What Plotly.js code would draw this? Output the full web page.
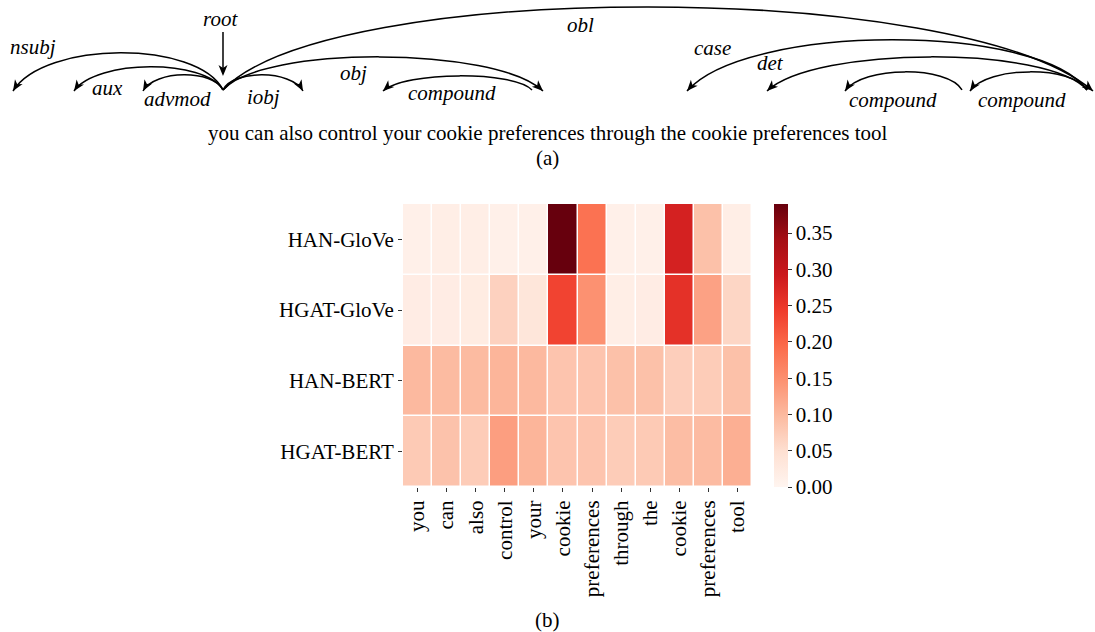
<!DOCTYPE html>
<html><head><meta charset="utf-8">
<script src="https://cdn.plot.ly/plotly-3.0.1.min.js"></script>
<style>html,body{margin:0;padding:0;background:#fff}#chart{width:1095px;height:632px}</style>
</head><body><div id="chart"></div>
<script>
// ---------- data ----------
const tokens = ["you","can","also","control","your","cookie","preferences","through","the","cookie","preferences","tool"];
const models = ["HAN-GloVe","HGAT-GloVe","HAN-BERT","HGAT-BERT"];
const hanGlove  = [0.012,0.016,0.016,0.012,0.012,0.390,0.185,0.012,0.012,0.280,0.090,0.016];
const hgatGlove = [0.020,0.020,0.022,0.068,0.035,0.235,0.148,0.016,0.020,0.258,0.128,0.062];
const hanBert   = [0.100,0.098,0.098,0.105,0.100,0.085,0.085,0.090,0.090,0.072,0.075,0.090];
const hgatBert  = [0.078,0.088,0.075,0.132,0.105,0.085,0.085,0.075,0.078,0.095,0.097,0.112];
const cbTickVals = [0,0.05,0.10,0.15,0.20,0.25,0.30,0.35];
const cbTickText = ["0.00","0.05","0.10","0.15","0.20","0.25","0.30","0.35"];
const zMax = 0.39;

// dependency relations: [head token index, dependent token index, label]
const relations = [
  [3,0,"nsubj"],[3,1,"aux"],[3,2,"advmod"],[3,4,"iobj"],[3,6,"obj"],[3,11,"obl"],
  [6,5,"compound"],[11,7,"case"],[11,8,"det"],[10,9,"compound"],[11,10,"compound"]
];
const rootIndex = 3;

// ---------- diagram layout (pixel anchors) ----------
const headX = [13,74,143,223,303,383,532,687,767,845,962,1087];
const depX  = [13,74,143,223,303,383,543,687,767,845,970,1093];
const arcPeakY = {"3-0":53,"3-1":67,"3-2":75,"3-4":75,"3-6":57,"3-11":7,"6-5":76,"11-7":40,"11-8":57,"10-9":72,"11-10":72};
const labelPos = {"3-0":[33,47],"3-1":[107,88],"3-2":[177,99],"3-4":[263,97],"3-6":[353,73],"3-11":[580,25],
                  "6-5":[452,93],"11-7":[712,48],"11-8":[770,63],"10-9":[893,100],"11-10":[1022,100]};
const baseY = 91;

const PL=403, PR=752, PT=204, PB=487, W=1095, H=632;
const fx = x => (x-PL)/(PR-PL);
const fy = y => (PB-y)/(PB-PT);
const P = (x,y) => fx(x).toFixed(5)+','+fy(y).toFixed(5);

const shapes=[], annotations=[];
const serif = 'Liberation Serif';

function arrowHead(tx,ty,dx,dy){
  const len=Math.hypot(dx,dy); dx/=len; dy/=len;
  const nx=-dy, ny=dx, L=11, Wd=4.5, N=3;
  const p1=[tx-L*dx+Wd*nx, ty-L*dy+Wd*ny];
  const p2=[tx-(L-N)*dx, ty-(L-N)*dy];
  const p3=[tx-L*dx-Wd*nx, ty-L*dy-Wd*ny];
  shapes.push({type:'path',xref:'paper',yref:'paper',
    path:`M${P(tx,ty)} L${P(p1[0],p1[1])} L${P(p2[0],p2[1])} L${P(p3[0],p3[1])} Z`,
    fillcolor:'#000',line:{width:0}});
}

function label(x,y,text,size){
  annotations.push({xref:'paper',yref:'paper',x:fx(x),y:fy(y),xanchor:'center',yanchor:'middle',
    showarrow:false,text:text,font:{family:serif,size:size,color:'#000'}});
}

relations.forEach(([h,d,lab])=>{
  const key=h+'-'+d;
  const x0=headX[h], y0=baseY-1, x1=depX[d], y1=baseY;
  const dx=x1-x0;
  const peak=arcPeakY[key];
  const Hc=(baseY-peak)/0.75;
  const yc=baseY-Hc;
  const c1=[x0+0.12*dx, yc], c2=[x1-0.15*dx, yc];
  shapes.push({type:'path',xref:'paper',yref:'paper',
    path:`M${P(x0,y0)} C${P(c1[0],c1[1])} ${P(c2[0],c2[1])} ${P(x1,y1)}`,
    line:{color:'#000',width:1.5}});
  arrowHead(x1,y1,x1-c2[0],y1-c2[1]);
  const lp=labelPos[key];
  label(lp[0],lp[1],'<i>'+lab+'</i>',21);
});
// root arrow
shapes.push({type:'path',xref:'paper',yref:'paper',path:`M${P(headX[rootIndex],32)} L${P(headX[rootIndex],72)}`,line:{color:'#000',width:1.5}});
arrowHead(headX[rootIndex],76,0,1);
label(220,19,'<i>root</i>',21);
// sentence and captions
label(547,133,tokens.join(' '),21);
label(547,158,'(a)',21);
label(547,620,'(b)',21);

const reds=[[0,'#fff5f0'],[0.125,'#fee0d2'],[0.25,'#fcbba1'],[0.375,'#fc9272'],[0.5,'#fb6a4a'],
            [0.625,'#ef3b2c'],[0.75,'#cb181d'],[0.875,'#a50f15'],[1,'#67000d']];

const trace={type:'heatmap',
  z:[hanGlove,hgatGlove,hanBert,hgatBert],
  x:tokens.map((_,i)=>i), y:models.map((_,i)=>i),
  zmin:0,zmax:zMax,colorscale:reds,xgap:1.5,ygap:1.5,hoverongaps:false,
  colorbar:{x:fx(774),xanchor:'left',xpad:0,y:0.5,yanchor:'middle',ypad:0,len:1,thickness:14,
    outlinewidth:0,ticks:'outside',ticklen:4,tickwidth:1,tickcolor:'#333',
    tickvals:cbTickVals,ticktext:cbTickText,tickfont:{family:serif,size:21,color:'#000'}}
};

const layout={width:W,height:H,margin:{l:PL,r:W-PR,t:PT,b:H-PB,pad:0},
  font:{family:serif,color:'#000'},
  paper_bgcolor:'#fff',plot_bgcolor:'#fff',showlegend:false,
  xaxis:{range:[-0.5,11.5],tickvals:tokens.map((_,i)=>i),ticktext:tokens,tickangle:-90,
    ticks:'outside',ticklen:4,tickwidth:1,tickcolor:'#333',showgrid:false,zeroline:false,showline:false,
    tickfont:{family:serif,size:21,color:'#000'},fixedrange:true},
  yaxis:{range:[3.5,-0.5],tickvals:models.map((_,i)=>i),ticktext:models,
    ticks:'outside',ticklen:4,tickwidth:1,tickcolor:'#333',showgrid:false,zeroline:false,showline:false,
    tickfont:{family:serif,size:21,color:'#000'},fixedrange:true},
  shapes:shapes,annotations:annotations};

Plotly.newPlot('chart',[trace],layout,{displayModeBar:false,staticPlot:true});
</script></body></html>
